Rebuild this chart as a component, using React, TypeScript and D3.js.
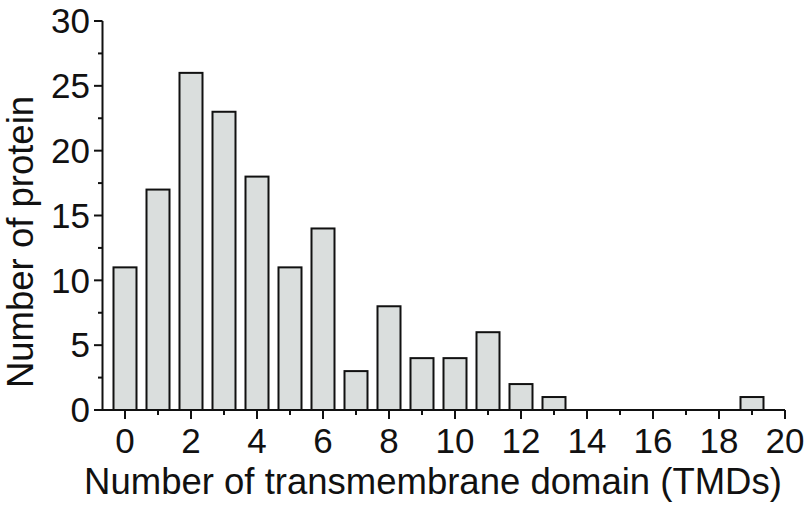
import React from "react";
import * as d3 from "d3";

const tmdCounts = [0, 1, 2, 3, 4, 5, 6, 7, 8, 9, 10, 11, 12, 13, 14, 15, 16, 17, 18, 19];
const proteinCounts = [11, 17, 26, 23, 18, 11, 14, 3, 8, 4, 4, 6, 2, 1, 0, 0, 0, 0, 0, 1];
const xTicks = [0, 2, 4, 6, 8, 10, 12, 14, 16, 18, 20];
const yTicks = [0, 5, 10, 15, 20, 25, 30];

const W = 810;
const H = 509;
const font = "'Liberation Sans', Arial, sans-serif";

const App = () => {
  const x = d3.scaleLinear().domain([0, 20]).range([125, 785]);
  const y = d3.scaleLinear().domain([0, 30]).range([410, 21]);
  const barW = 23;
  const xMinor = d3.range(1, 20, 2);
  const yMinor = d3.range(2.5, 30, 5);

  return (
    <svg width={W} height={H} style={{ position: "absolute", left: 0, top: 0 }}>
      <rect width={W} height={H} fill="white" />
      {/* bars */}
      {tmdCounts.map((d, i) =>
        proteinCounts[i] > 0 ? (
          <rect
            key={d}
            x={x(d) - barW / 2}
            y={y(proteinCounts[i])}
            width={barW}
            height={y(0) - y(proteinCounts[i])}
            fill="#dadedd"
            stroke="#111"
            strokeWidth={2}
          />
        ) : null
      )}
      {/* axes */}
      <g stroke="#111" strokeWidth={2} fill="none">
        <path d={`M102.5,${y(30)} V${y(0)} H${x(20)}`} />
        {yTicks.map(t => <line key={t} x1={94} x2={102.5} y1={y(t)} y2={y(t)} />)}
        {yMinor.map(t => <line key={t} x1={98} x2={102.5} y1={y(t)} y2={y(t)} />)}
        {xTicks.map(t => <line key={t} x1={x(t)} x2={x(t)} y1={y(0)} y2={y(0) + 9} />)}
        {xMinor.map(t => <line key={t} x1={x(t)} x2={x(t)} y1={y(0)} y2={y(0) + 5} />)}
      </g>
      <g fontFamily={font} fontSize={35} fill="#111">
        {yTicks.map(t => (
          <text key={t} x={90} y={y(t)} dy="0.35em" textAnchor="end">{t}</text>
        ))}
        {xTicks.map(t => (
          <text key={t} x={x(t)} y={453} textAnchor="middle">{t}</text>
        ))}
        <text x={433} y={494} fontSize={36.5} textAnchor="middle">Number of transmembrane domain (TMDs)</text>
        <text transform={`translate(33,242) rotate(-90)`} fontSize={36.5} textAnchor="middle">Number of protein</text>
      </g>
    </svg>
  );
};

export default App;
